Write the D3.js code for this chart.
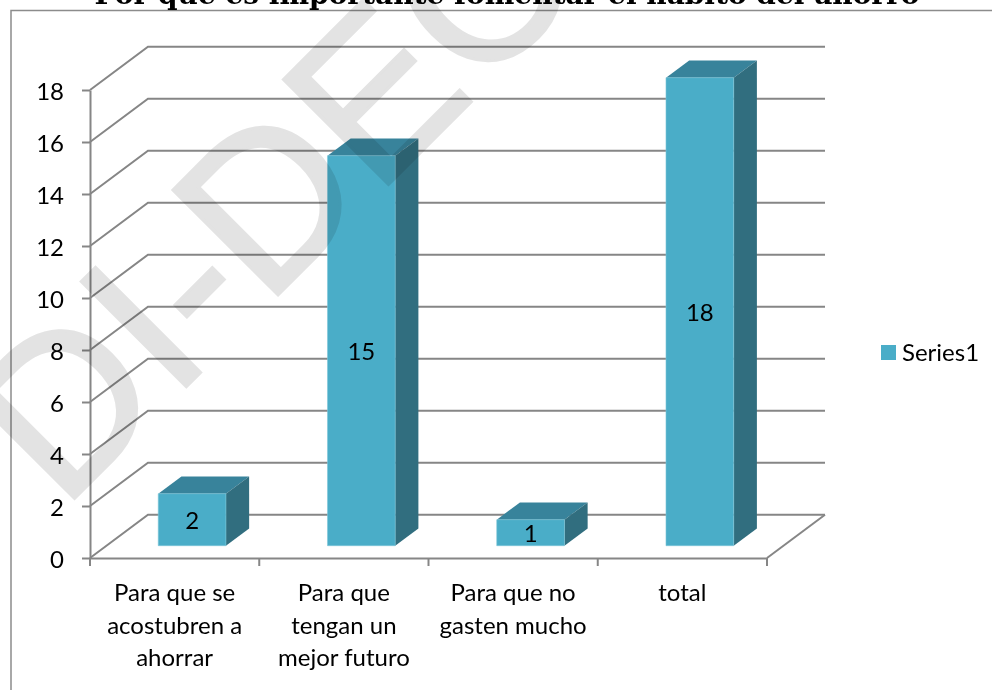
<!DOCTYPE html>
<html>
<head>
<meta charset="utf-8">
<script src="https://cdn.jsdelivr.net/npm/d3@7"></script>
<style>
	body { margin: 0; background: #fff; overflow: hidden; }
	svg { display: block; }
	text { font-family: Lato, "Noto Sans", sans-serif; fill: #000; }
	.axis path, .axis line { stroke: #868686; stroke-width: 2; }
	.axis text { font-size: 24px; }
	.title { font-family: "DejaVu Serif", serif; font-weight: bold; font-size: 28px; }
	.watermark { font-family: "Liberation Sans", sans-serif; font-size: 216px; fill: #e3e3e3; stroke: #e3e3e3; stroke-width: 3; mix-blend-mode: multiply; }
</style>
</head>
<body>
<div id="chart"></div>
<script>
"use strict"

const categories = ["Para que se acostubren a ahorrar", "Para que tengan un mejor futuro", "Para que no gasten mucho", "total"];
const categoryLines = [
	["Para que se", "acostubren a", "ahorrar"],
	["Para que", "tengan un", "mejor futuro"],
	["Para que no", "gasten mucho"],
	["total"]
];
const values = [2, 15, 1, 18];
const yTicks = [0, 2, 4, 6, 8, 10, 12, 14, 16, 18];
const seriesName = "Series1";
const chartTitle = "Por qué es importante fomentar el hábito del ahorro";

const colors = { front: "#4aadc8", top: "#38839b", side: "#316e7f", edge: "#7cc6d8", grid: "#868686" };

const width = 992, height = 690;
const svg = d3.select("#chart").append("svg").attr("width", width).attr("height", height);

const x0 = 90, x1 = 767, yBase = 558, yTop = 90;
const wallDx = 58, wallDy = 43.3;

const xScale = d3.scaleBand().domain(categories).range([x0 + 1, x1 + 1]).paddingInner(0.6).paddingOuter(0.3);
const xAxisScale = d3.scaleBand().domain(categories).range([x0, x1]);
const yScale = d3.scaleLinear().domain([0, 18]).range([yBase, yTop]);

// depth goes from 0 (front of the floor) to 1 (back wall)
const project = (x, y, depth) => [x + depth * wallDx, y - depth * wallDy];
const barNear = 0.284, barFar = 0.684;

// frame
svg.append("path")
	.attr("d", `M11,${height}V10.5H${width}`)
	.attr("fill", "none")
	.attr("stroke", "#8c8c8c")
	.attr("stroke-width", 1.5);

svg.append("text")
	.attr("class", "title")
	.attr("x", 507)
	.attr("y", 4)
	.attr("text-anchor", "middle")
	.text(chartTitle);

// gridlines on the side and back walls
svg.append("g").selectAll("path")
	.data(yTicks)
	.enter().append("path")
		.attr("d", d => {
			const a = project(x0, yScale(d), 0);
			const b = project(x0, yScale(d), 1);
			const c = project(x1, yScale(d), 1);
			return `M${a}L${b}L${c}`;
		})
		.attr("fill", "none")
		.attr("stroke", colors.grid)
		.attr("stroke-width", 2);

// right edge of the floor
svg.append("path")
	.attr("d", `M${project(x1, yBase, 0)}L${project(x1, yBase, 1)}`)
	.attr("fill", "none")
	.attr("stroke", colors.grid)
	.attr("stroke-width", 2);

const yAxis = svg.append("g")
	.attr("class", "axis y")
	.attr("transform", `translate(${x0},0)`)
	.call(d3.axisLeft(yScale).tickValues(yTicks).tickSize(8).tickPadding(18).tickSizeOuter(0));

yAxis.selectAll("text").attr("dy", "0.4em");

const xAxis = svg.append("g")
	.attr("class", "axis x")
	.attr("transform", `translate(0,${yBase})`)
	.call(d3.axisBottom(xAxisScale).tickValues([]).tickSizeOuter(0));

xAxis.selectAll(".edgeTick")
	.data([...categories.map(d => xAxisScale(d)), x1])
	.enter().append("line")
		.attr("x1", d => d)
		.attr("x2", d => d)
		.attr("y1", 0)
		.attr("y2", 8);

// multi line category labels
const labels = svg.append("g").selectAll("text")
	.data(categories)
	.enter().append("text")
		.attr("text-anchor", "middle")
		.style("font-size", "24px");

labels.selectAll("tspan")
	.data((d, i) => categoryLines[i].map(line => ({ line, cat: d })))
	.enter().append("tspan")
		.attr("x", d => xAxisScale(d.cat) + xAxisScale.bandwidth() / 2)
		.attr("y", (d, i) => 601 + i * 32.5)
		.text(d => d.line);

// bars
const bars = svg.append("g").selectAll("g")
	.data(categories.map((c, i) => ({ c, v: values[i] })))
	.enter().append("g");

const corner = (d, right, topEdge, depth) => project(
	xScale(d.c) + (right ? xScale.bandwidth() : 0),
	yScale(topEdge ? d.v : 0),
	depth
);

bars.append("path")
	.attr("d", d => `M${corner(d, 0, 1, barNear)}L${corner(d, 0, 1, barFar)}L${corner(d, 1, 1, barFar)}L${corner(d, 1, 1, barNear)}Z`)
	.attr("fill", colors.top);

bars.append("path")
	.attr("d", d => `M${corner(d, 1, 1, barNear)}L${corner(d, 1, 1, barFar)}L${corner(d, 1, 0, barFar)}L${corner(d, 1, 0, barNear)}Z`)
	.attr("fill", colors.side);

bars.append("path")
	.attr("d", d => `M${corner(d, 0, 1, barNear)}L${corner(d, 1, 1, barNear)}L${corner(d, 1, 0, barNear)}L${corner(d, 0, 0, barNear)}Z`)
	.attr("fill", colors.front)
	.attr("stroke", colors.edge)
	.attr("stroke-width", 0.6);

bars.append("text")
	.attr("x", d => corner(d, 0, 0, barNear)[0] + xScale.bandwidth() / 2)
	.attr("y", d => (corner(d, 0, 1, barNear)[1] + corner(d, 0, 0, barNear)[1]) / 2)
	.attr("dy", "0.38em")
	.attr("text-anchor", "middle")
	.style("font-size", "24px")
	.text(d => d.v);

// legend
svg.append("rect")
	.attr("x", 881)
	.attr("y", 345)
	.attr("width", 15)
	.attr("height", 15)
	.attr("fill", colors.front);

svg.append("text")
	.attr("x", 902)
	.attr("y", 361)
	.style("font-size", "24px")
	.text(seriesName);

// watermark runs over everything
svg.append("text")
	.attr("class", "watermark")
	.attr("transform", "translate(62,511)rotate(-45)")
	.text("DI-DEC");
</script>
</body>
</html>
